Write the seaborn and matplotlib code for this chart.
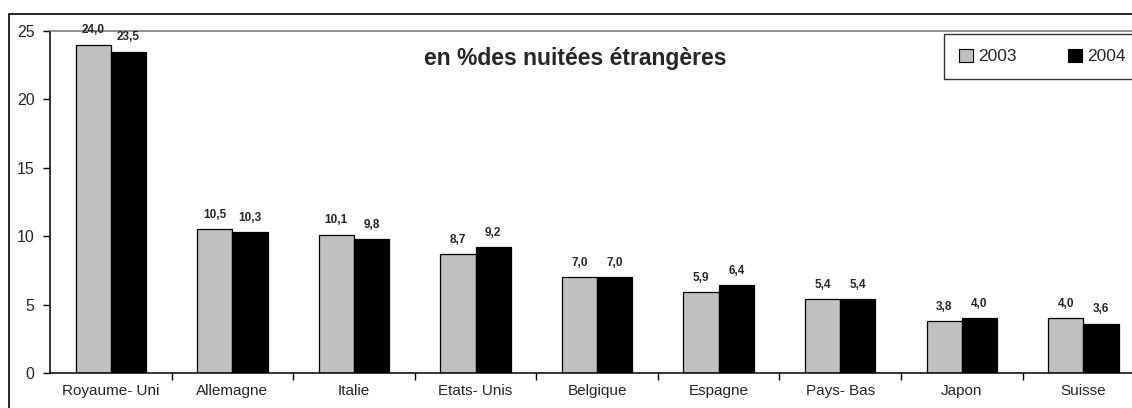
import matplotlib

matplotlib.use("Agg")
import matplotlib.pyplot as plt
import numpy as np
import pandas as pd
import seaborn as sns
from matplotlib.patches import Patch, Rectangle

COUNTRIES = [
    "Royaume- Uni",
    "Allemagne",
    "Italie",
    "Etats- Unis",
    "Belgique",
    "Espagne",
    "Pays- Bas",
    "Japon",
    "Suisse",
]
VALUES_2003 = [24.0, 10.5, 10.1, 8.7, 7.0, 5.9, 5.4, 3.8, 4.0]
VALUES_2004 = [23.5, 10.3, 9.8, 9.2, 7.0, 6.4, 5.4, 4.0, 3.6]
YEARS = ["2003", "2004"]
COLORS = ["#c0c0c0", "#000000"]
TITLE = "en %des nuitées étrangères"


def configure_style() -> None:
    sns.set_theme(style="white")
    plt.rcParams["font.family"] = ["Liberation Sans", "DejaVu Sans"]


def build_frame() -> pd.DataFrame:
    rows = []
    for year, values in zip(YEARS, [VALUES_2003, VALUES_2004]):
        for country, val in zip(COUNTRIES, values):
            rows.append({"Pays": country, "Année": year, "Valeur": val})
    return pd.DataFrame(rows)


def main() -> None:
    configure_style()
    df = build_frame()

    fig = plt.figure(figsize=(11.32, 4.08), dpi=100)
    ax = fig.add_axes([50 / 1132, 35 / 408, 1 - 50 / 1132, 342 / 408])

    sns.barplot(
        data=df,
        x="Pays",
        y="Valeur",
        hue="Année",
        palette=COLORS,
        width=0.58,
        gap=0,
        edgecolor="#000000",
        linewidth=0.9,
        legend=False,
        ax=ax,
    )

    # etiquettes de valeurs au-dessus des barres
    for container in ax.containers:
        labels = [f"{bar.get_height():.1f}".replace(".", ",") for bar in container]
        ax.bar_label(container, labels=labels, padding=6, fontsize=8.5, fontweight="bold")

    ax.set_ylim(0, 25)
    ax.set_xlim(-0.5, 8.4)
    ax.set_yticks(np.arange(0, 26, 5))
    ax.set_xlabel("")
    ax.set_ylabel("")
    ax.tick_params(axis="y", length=5, width=1, color="#000000", labelsize=11.5, pad=6, left=True)
    ax.tick_params(axis="x", which="major", length=0, labelsize=11, pad=8)
    ax.set_xticks(np.arange(0.5, 8.5, 1), minor=True)
    ax.tick_params(axis="x", which="minor", length=5, width=1, color="#000000", bottom=True)

    for side in ["left", "bottom"]:
        ax.spines[side].set_color("#000000")
        ax.spines[side].set_linewidth(1.1)
    ax.spines["top"].set_color("#808080")
    ax.spines["top"].set_linewidth(1.2)
    ax.spines["right"].set_visible(False)

    fig.text(0.508, 1 - 58 / 408, TITLE, ha="center", va="center",
             fontsize=16.5, fontweight="bold")

    handles = [Patch(facecolor=c, edgecolor="#000000", linewidth=0.8) for c in COLORS]
    fig.legend(
        handles,
        YEARS,
        loc="upper left",
        bbox_to_anchor=(944 / 1132, 1 - 34 / 408),
        borderaxespad=0,
        ncol=2,
        fontsize=12.5,
        handlelength=0.8,
        handleheight=0.8,
        handletextpad=0.3,
        columnspacing=3.0,
        borderpad=0.85,
        frameon=True,
        fancybox=False,
        edgecolor="#000000",
    )

    fig.add_artist(
        Rectangle((9 / 1132, -0.1), 1.2, 1.1 - 14 / 408, fill=False,
                  edgecolor="#000000", linewidth=1.2, transform=fig.transFigure)
    )

    fig.savefig("out.png", dpi=100)
    plt.close(fig)


if __name__ == "__main__":
    main()
